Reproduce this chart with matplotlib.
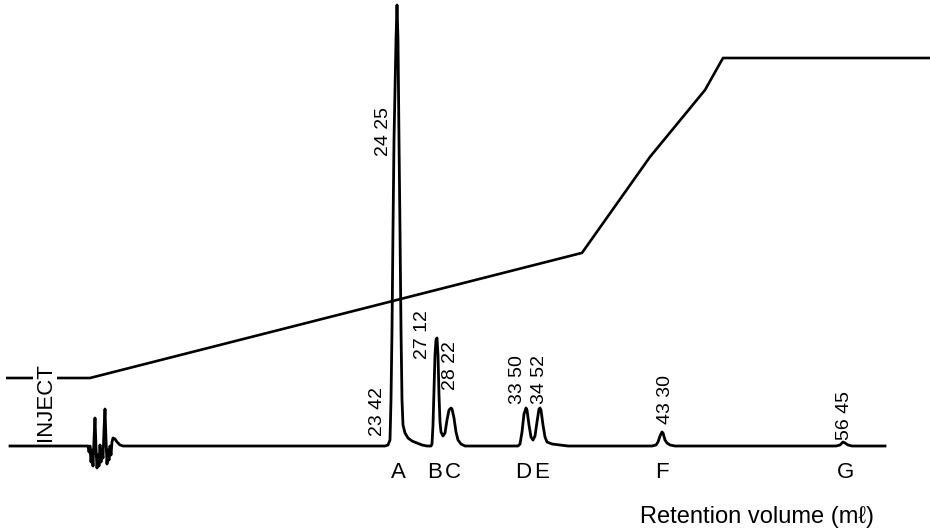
import matplotlib
matplotlib.use("Agg")
import matplotlib.pyplot as plt

# retention volume (arbitrary chart units) and detector signal
retention = [10, 86, 88, 89, 90, 91, 92, 93, 94, 95, 96, 97, 98, 99, 100, 101,
             102, 103, 104, 105, 106, 107, 108, 109, 110, 111, 112, 113, 115,
             117, 120, 123,
             385, 388, 390, 391, 392, 393, 394, 396, 397, 398, 399, 400, 401,
             402, 403, 405, 408, 412, 417, 422, 427,
             431, 432, 433, 434, 435, 436, 437, 438, 439, 440, 441, 443, 445,
             447, 449, 451, 452, 454, 456, 458, 461, 465,
             518, 520, 522, 524, 526, 527, 529, 531, 533, 535, 537, 539, 540,
             541, 543, 545, 547, 552, 560, 568,
             652, 656, 658, 660, 662, 663, 665, 667, 670, 675,
             836, 840, 843, 845, 848, 852, 885]
signal = [0, 0, 0, -6, 0, -16, -4, -20, 6, 28, -2, -22, -9, -20, 1, -16,
          -4, -12, 16, 37, 6, -18, -4, -14, 0, -9, 4, 8, 7,
          4, 1, 0,
          0, 1, 6, 46, 116, 216, 306, 406, 441, 406, 306, 216, 116,
          46, 21, 13, 8, 5, 3, 1, 0,
          0, 2, 21, 56, 91, 106, 108, 91, 51, 24, 14, 10, 13,
          26, 36, 38, 37, 28, 14, 6, 2, 0,
          0, 2, 14, 32, 38, 36, 21, 9, 6, 10, 24, 37, 38,
          36, 21, 9, 4, 2, 1, 0,
          0, 1, 4, 10, 14, 13, 6, 3, 1, 0,
          0, 1, 4, 3, 1, 0, 0]

# solvent gradient (% B)
grad_vol = [6, 90, 582, 650, 705, 723, 930]
grad_pct = [0, 0, 39.1, 69.1, 90.0, 100, 100]

peak_names = ["A", "B", "C", "D", "E", "F", "G"]
peak_vol = [398, 435, 453, 523, 542, 662, 845]

# fraction numbers written next to the peaks
frac_text = ["24 25", "27 12", "28 22", "23 42", "33 50", "34 52", "43 30", "56 45"]
frac_vol = [383, 422, 450, 377, 517, 539, 665, 844]
frac_sig = [315, 111, 80, 34, 66, 66, 47, 31]

fam = ["Liberation Sans", "DejaVu Sans"]

fig = plt.figure(figsize=(9.3, 5.28), dpi=100)
ax = fig.add_axes([0, 0, 1, 1])
ax.set_xlim(0, 930)
ax.set_ylim(-46.875, 118.125)
ax.axis("off")

ax.plot(grad_vol, grad_pct, color="black", lw=1.9, solid_capstyle="butt")
ax.text(45, -7.5, "INJECT", rotation=90, ha="center", va="center",
        fontsize=16, family=fam, zorder=5,
        bbox=dict(facecolor="white", edgecolor="none", pad=1.0))

ax2 = ax.twinx()
ax2.set_ylim(-82, 446)
ax2.axis("off")
ax2.plot(retention, signal, color="black", lw=2.0, solid_joinstyle="round")

for t, x, y in zip(frac_text, frac_vol, frac_sig):
    ax2.text(x, y, t, rotation=90, ha="center", va="center",
             fontsize=14, family=fam)

for n, x in zip(peak_names, peak_vol):
    ax2.text(x, -27, n, ha="center", va="center", fontsize=16, family=fam)

ax2.text(757, -71, "Retention volume (mℓ)", ha="center", va="center",
         fontsize=17, family=fam)

fig.savefig("out.png", dpi=100)
